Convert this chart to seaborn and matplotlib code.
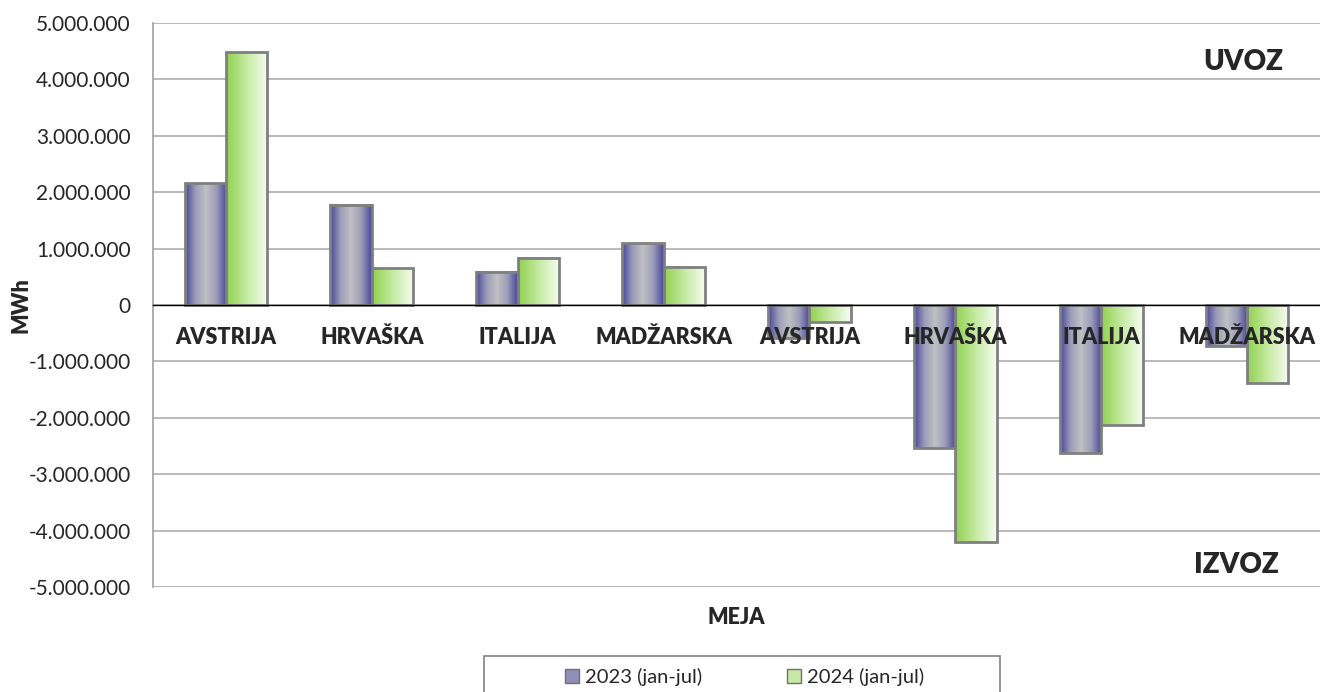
import matplotlib
matplotlib.use("Agg")
import matplotlib.pyplot as plt
from matplotlib.colors import LinearSegmentedColormap
from matplotlib.patches import Patch, Rectangle
import numpy as np
import pandas as pd
import seaborn as sns

# data (MWh)
meje = ["AVSTRIJA", "HRVAŠKA", "ITALIJA", "MADŽARSKA"]
uvoz_2023 = [2160000, 1775000, 590000, 1095000]
uvoz_2024 = [4480000, 650000, 840000, 680000]
izvoz_2023 = [-590000, -2540000, -2630000, -720000]
izvoz_2024 = [-300000, -4210000, -2130000, -1390000]
leti = ["2023 (jan-jul)", "2024 (jan-jul)"]

kljuci = [f"uvoz-{m}" for m in meje] + [f"izvoz-{m}" for m in meje]
oznake = meje + meje

df = pd.DataFrame({
    "kljuc": kljuci * 2,
    "leto": [leti[0]] * 8 + [leti[1]] * 8,
    "MWh": uvoz_2023 + izvoz_2023 + uvoz_2024 + izvoz_2024,
})

sns.set_style("white")
plt.rcParams["font.family"] = ["Lato", "DejaVu Sans"]
plt.rcParams["axes.axisbelow"] = False

fig = plt.figure(figsize=(13.2, 6.92), dpi=100)
ax = fig.add_axes([153 / 1320, 1 - 587 / 692, 1167 / 1320, 564 / 692])
ax.set_axisbelow(False)

sns.barplot(data=df, x="kljuc", y="MWh", hue="leto", order=kljuci,
            hue_order=leti, width=0.567, gap=0, legend=False, ax=ax,
            palette=["#8e8eb8", "#c8e8a8"], zorder=2)

# gradient fills
cm_2023 = LinearSegmentedColormap.from_list(
    "g23", ["#45459a", "#9c9cb8", "#c0c0c4", "#9c9cb8", "#45459a"])
cm_2024 = LinearSegmentedColormap.from_list(
    "g24", ["#8fd14f", "#c6eaa3", "#f7fdf2"])
grad = np.linspace(0, 1, 256).reshape(1, -1)
bars = ax.patches[:]
for i, p in enumerate(bars):
    cmap = cm_2023 if i < 8 else cm_2024
    x0, w = p.get_x(), p.get_width()
    y0, h = p.get_y(), p.get_height()
    ax.imshow(grad, cmap=cmap, extent=(x0, x0 + w, y0, y0 + h),
              aspect="auto", zorder=1.5, interpolation="bilinear")
    p.set_facecolor("none")
    p.set_edgecolor("#808080")
    p.set_linewidth(2)

ax.set_xlim(-0.5, 7.5)
ax.set_ylim(-5000000, 5000000)

# gridlines
yt = np.arange(-5000000, 5000001, 1000000)
ax.set_yticks(yt)
ax.set_yticklabels([f"{int(v):,}".replace(",", ".") for v in yt])
ax.hlines(yt, -0.5, 7.5, colors="#b4b4b4", linewidth=1.3, zorder=0.5)

ax.set_xticks(range(8))
ax.set_xticklabels(oznake)
ax.set_xticks(np.arange(0.5, 7.5, 1), minor=True)
ax.tick_params(axis="x", which="major", length=0, pad=16, labelsize=15.5)
ax.tick_params(axis="x", which="minor", length=5, width=1, color="black",
               direction="out")
ax.tick_params(axis="y", length=5, width=1, color="#a0a0a0",
               direction="out", labelsize=15, pad=11)

for s in ["top", "right"]:
    ax.spines[s].set_visible(False)
ax.spines["left"].set_color("#a0a0a0")
ax.spines["left"].set_linewidth(1.2)
ax.spines["bottom"].set_position(("data", 0))
ax.spines["bottom"].set_color("black")
ax.spines["bottom"].set_linewidth(1)

ax.set_xlabel("MEJA", fontweight="heavy", fontsize=15.5)
ax.xaxis.set_label_coords(0.5, -0.036)
ax.xaxis.label.set_va("top")
ax.set_ylabel("MWh", fontweight="heavy", fontsize=15.5)
ax.yaxis.set_label_coords(-0.104, 0.5)

ax.text(0.934, 0.931, "UVOZ", transform=ax.transAxes, fontsize=20,
        fontweight="heavy", ha="center", va="center")
ax.text(0.928, 0.039, "IZVOZ", transform=ax.transAxes, fontsize=20,
        fontweight="heavy", ha="center", va="center")

# legend
fig.patches.append(Rectangle((484 / 1320, -0.05), 516 / 1320, 0.05 + 36 / 692,
                             transform=fig.transFigure, fill=False,
                             edgecolor="#8a8a8a", linewidth=1.3))
handles = [Patch(facecolor="#8e8eb8", edgecolor="#707070", label=leti[0]),
           Patch(facecolor="#c8e8a8", edgecolor="#707070", label=leti[1])]
fig.legend(handles=handles, loc="center left", ncol=2, frameon=False,
           bbox_to_anchor=(555 / 1320, 1 - 677 / 692), fontsize=14.5,
           handlelength=0.7, handleheight=0.7, handletextpad=0.3,
           columnspacing=4.2, borderpad=0)

for lbl in ax.get_xticklabels():
    lbl.set_fontweight("heavy")

fig.savefig("out.png", dpi=100)
